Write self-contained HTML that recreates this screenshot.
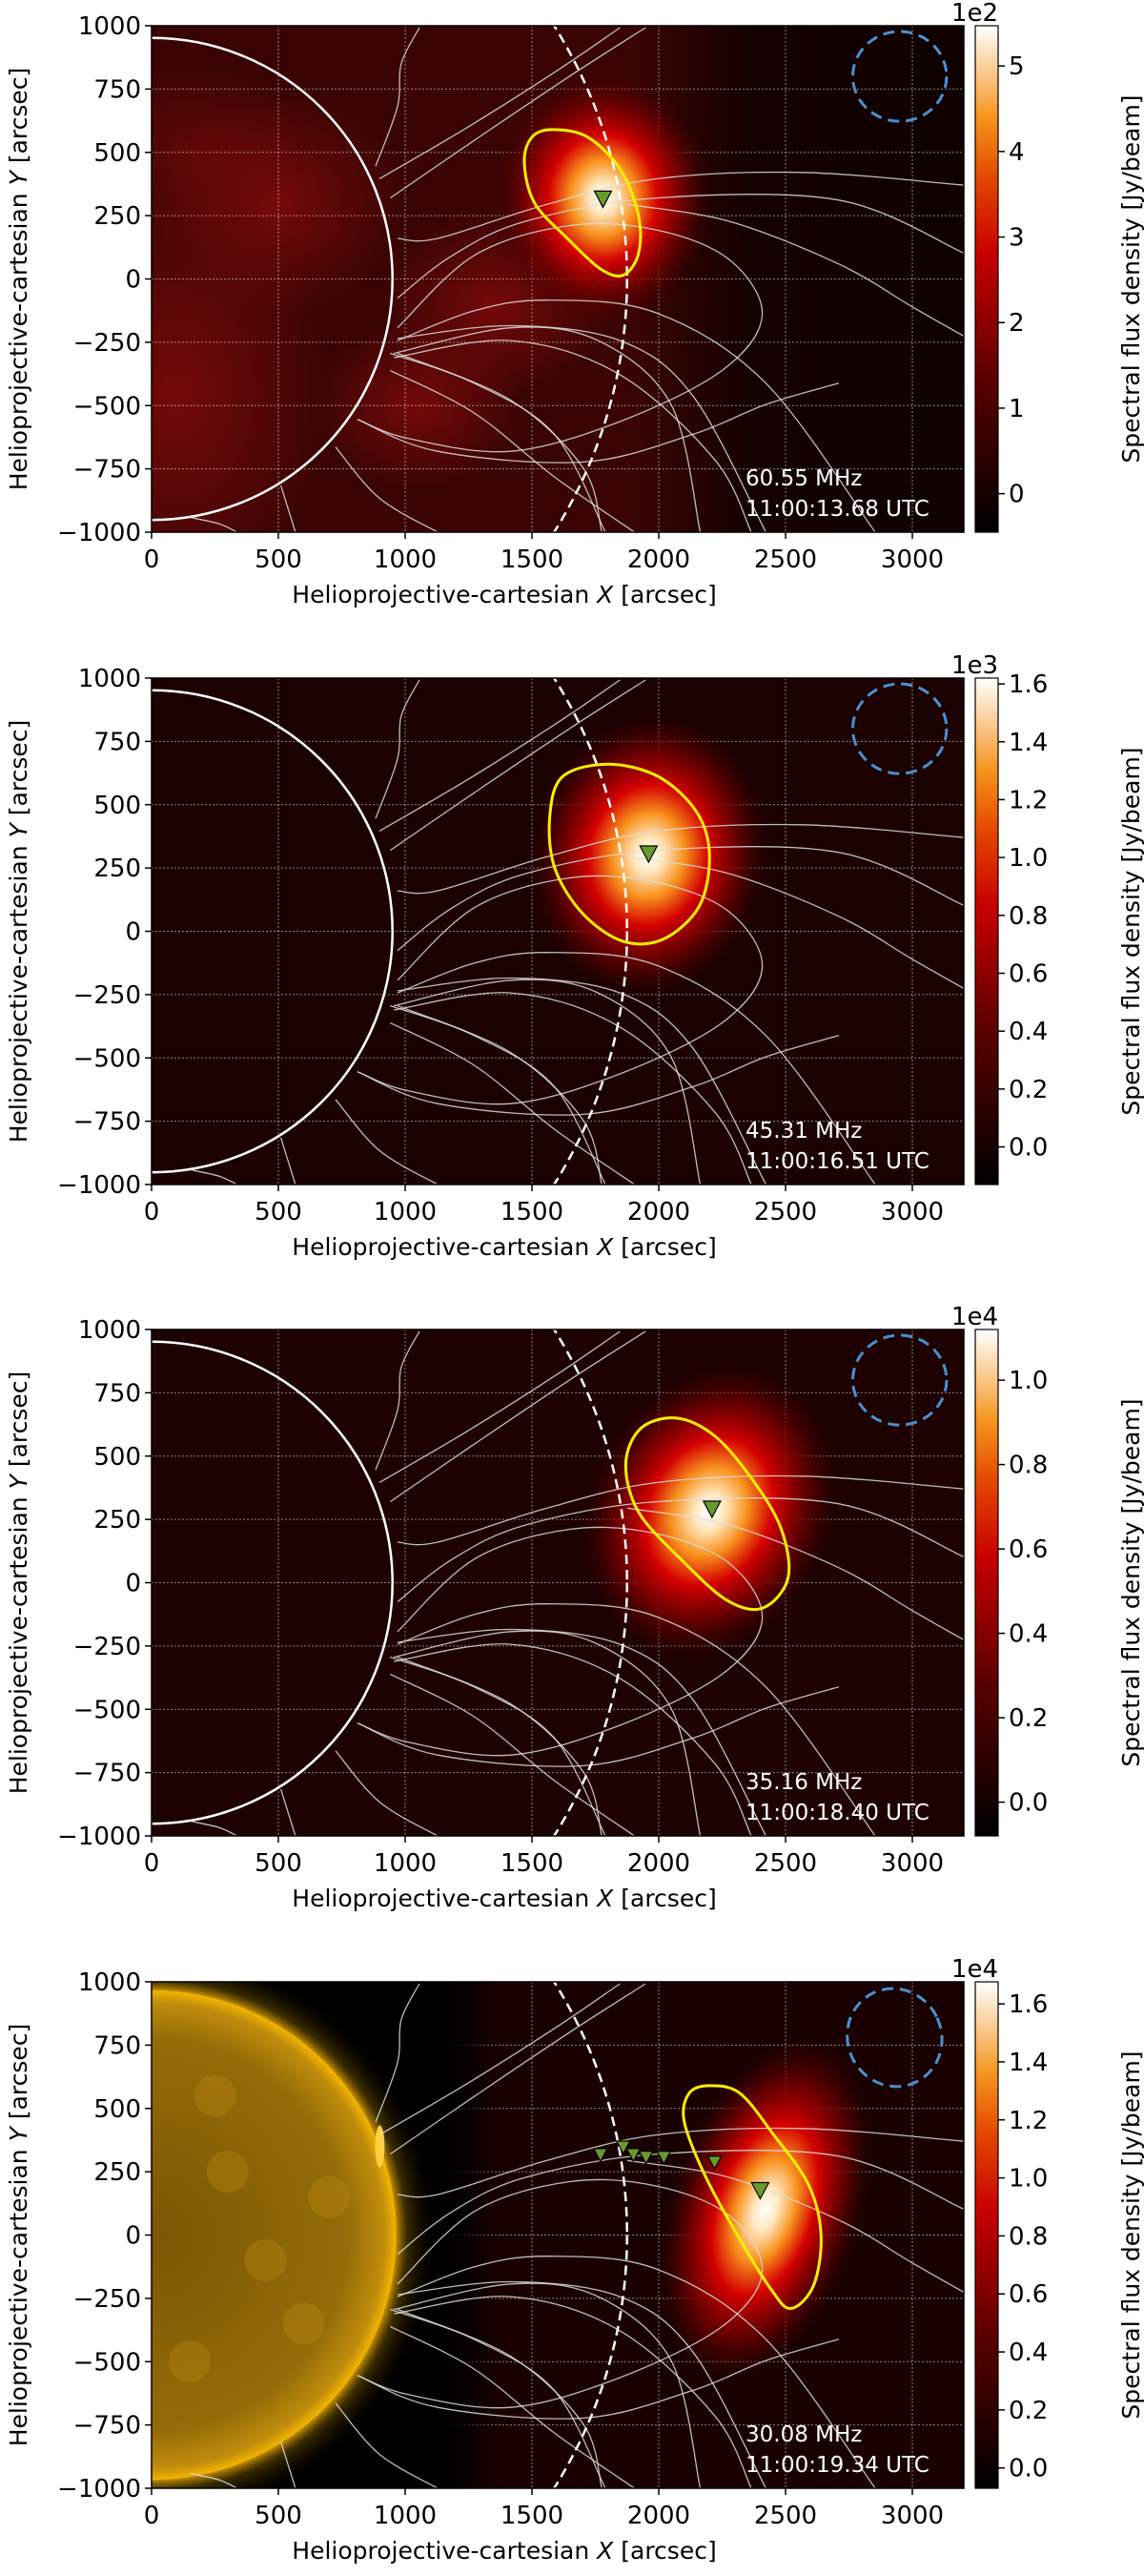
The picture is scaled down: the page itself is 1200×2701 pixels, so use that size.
<!DOCTYPE html>
<html><head><meta charset="utf-8">
<style>
html,body{margin:0;padding:0;background:#fff;}
body{width:1200px;height:2697px;overflow:hidden;font-family:"DejaVu Sans","Liberation Sans",sans-serif;}
svg text{font-family:"DejaVu Sans","Liberation Sans",sans-serif;}
</style></head>
<body>
<svg id="fig" xmlns="http://www.w3.org/2000/svg" width="1200" height="2697" viewBox="0 0 1200 2697">
<defs>
<linearGradient id="cmap" x1="0" y1="1" x2="0" y2="0">
<stop offset="0" stop-color="#000"/>
<stop offset="0.3" stop-color="#5a0000"/>
<stop offset="0.55" stop-color="#c80000"/>
<stop offset="0.7" stop-color="#e44800"/>
<stop offset="0.82" stop-color="#f5951e"/>
<stop offset="1" stop-color="#fff"/>
</linearGradient>
<radialGradient id="blob">
<stop offset="0" stop-color="#fff"/>
<stop offset="0.12" stop-color="#ffe8c0"/>
<stop offset="0.3" stop-color="#f8901c"/>
<stop offset="0.5" stop-color="#d40000"/>
<stop offset="0.75" stop-color="#780000" stop-opacity="0.75"/>
<stop offset="1" stop-color="#400000" stop-opacity="0"/>
</radialGradient>
<radialGradient id="redpatch">
<stop offset="0" stop-color="#800a0a" stop-opacity="0.85"/>
<stop offset="1" stop-color="#800a0a" stop-opacity="0"/>
</radialGradient>
<linearGradient id="fadeR" x1="0" y1="0" x2="1" y2="0">
<stop offset="0" stop-color="#080000" stop-opacity="0"/>
<stop offset="0.35" stop-color="#080000" stop-opacity="0.75"/>
<stop offset="1" stop-color="#080000" stop-opacity="0.85"/>
</linearGradient>
<radialGradient id="sun">
<stop offset="0" stop-color="#7a5604"/>
<stop offset="0.8" stop-color="#946c08"/>
<stop offset="0.95" stop-color="#c08c0c"/>
<stop offset="1" stop-color="#f2b400"/>
</radialGradient>
<radialGradient id="corona">
<stop offset="0.86" stop-color="#e0a000" stop-opacity="0.9"/>
<stop offset="0.9" stop-color="#806000" stop-opacity="0.45"/>
<stop offset="0.97" stop-color="#302000" stop-opacity="0.15"/>
<stop offset="1" stop-color="#000" stop-opacity="0"/>
</radialGradient>
<linearGradient id="aiabg" x1="0" y1="0" x2="1" y2="0">
<stop offset="0" stop-color="#000"/>
<stop offset="0.85" stop-color="#000"/>
<stop offset="1" stop-color="#000" stop-opacity="0"/>
</linearGradient>
</defs>
</svg>
<script>
// ---- data ----
const freqs = ["60.55 MHz","45.31 MHz","35.16 MHz","30.08 MHz"];
const times = ["11:00:13.68 UTC","11:00:16.51 UTC","11:00:18.40 UTC","11:00:19.34 UTC"];
const cbExp = ["1e2","1e3","1e4","1e4"];
const cbMin = [-0.45,-0.13,-0.08,-0.07];
const cbMax = [5.47,1.62,1.12,1.676];
const cbTicks = [[0,1,2,3,4,5],[0,0.2,0.4,0.6,0.8,1.0,1.2,1.4,1.6],[0,0.2,0.4,0.6,0.8,1.0],[0,0.2,0.4,0.6,0.8,1.0,1.2,1.4,1.6]];
const cbDigits = [0,1,1,1];
const blobX = [1780,1960,2200,2420];
const blobY = [320,300,280,100];
const blobRx = [430,470,480,380];
const blobRy = [500,560,600,700];
const blobRot = [0,10,25,18];
const contours = [
 [[1580,590],[1720,560],[1850,430],[1920,250],[1920,100],[1860,15],[1770,40],[1640,160],[1510,300],[1470,460],[1500,560]],
 [[1620,610],[1800,660],[2000,610],[2150,470],[2200,300],[2160,100],[2020,-30],[1860,-40],[1700,70],[1590,250],[1570,450]],
 [[1930,610],[2070,650],[2220,580],[2360,420],[2480,220],[2510,20],[2410,-100],[2270,-70],[2090,90],[1920,280],[1870,470]],
 [[2200,590],[2320,560],[2450,400],[2590,200],[2640,0],[2610,-200],[2520,-290],[2440,-210],[2310,0],[2180,240],[2100,450],[2120,560]]
];
const markX = [[1780],[1960],[2210],[1770,1860,1900,1950,2020,2220,2400]];
const markY = [[320],[310],[295],[320,350,320,310,310,290,180]];
const xTicks = [0,500,1000,1500,2000,2500,3000];
const yTicks = [-1000,-750,-500,-250,0,250,500,750,1000];
// ---- layout ----
const NS="http://www.w3.org/2000/svg";
const svg=document.getElementById('fig');
const tops=[27,711,1394,2078];
const PL=159, PW=852, PH=531;
const XMAX=3203;
function mk(tag,attrs,parent){const e=document.createElementNS(NS,tag);for(const k in attrs)e.setAttribute(k,attrs[k]);(parent||svg).appendChild(e);return e;}
function smooth(pts,closed){
  let n=pts.length; let d="M"+pts[0][0].toFixed(1)+","+pts[0][1].toFixed(1);
  const g=i=>closed?pts[(i+n)%n]:pts[Math.max(0,Math.min(n-1,i))];
  const m=closed?n:n-1;
  for(let i=0;i<m;i++){const p0=g(i-1),p1=g(i),p2=g(i+1),p3=g(i+2);
    const c1=[p1[0]+(p2[0]-p0[0])/6,p1[1]+(p2[1]-p0[1])/6],c2=[p2[0]-(p3[0]-p1[0])/6,p2[1]-(p3[1]-p1[1])/6];
    d+=" C"+c1[0].toFixed(1)+","+c1[1].toFixed(1)+" "+c2[0].toFixed(1)+","+c2[1].toFixed(1)+" "+p2[0].toFixed(1)+","+p2[1].toFixed(1);}
  return d+(closed?"Z":"");
}
const fl=[
 [[520,420],[640,300],[760,170],[850,65]],
 [[535,465],[650,330],[780,180],[885,65]],
 [[515,390],[545,250],[550,150],[575,65]],
 [[545,560],[600,560],[750,480],[900,420],[1100,405],[1322,435]],
 [[545,700],[620,600],[720,520],[900,465],[1150,470],[1322,595]],
 [[545,770],[650,600],[780,530],[900,540],[1000,610],[1045,740],[990,870],[850,990],[700,1060],[560,1030],[490,985]],
 [[545,800],[650,730],[750,705],[900,735],[1050,900],[1200,1250]],
 [[545,795],[700,765],[850,800],[950,930],[1050,1250]],
 [[540,830],[700,770],[820,800],[920,950],[960,1250]],
 [[540,840],[700,800],[850,880],[980,1080],[1030,1250]],
 [[535,830],[650,900],[760,1020],[830,1250]],
 [[535,870],[650,970],[760,1120],[870,1250]],
 [[545,830],[700,940],[800,1100],[825,1250]],
 [[490,985],[600,1060],[800,1085],[950,1020],[1050,950],[1150,900]],
 [[860,480],[1000,520],[1150,620],[1250,720],[1322,790]],
 [[460,1050],[520,1170],[600,1250]],
 [[385,1140],[405,1250]],
 [[260,1215],[300,1230],[325,1250]]
];
function addText(x,y,s,opt,name){
  const t=mk('text',Object.assign({x:x,y:y,'font-size':26,fill:'#000'},opt||{}));
  t.textContent=s;
  
  
  return t;
}
function addLabel(x,y,pre,it,post,opt,name){
  const t=mk('text',Object.assign({x:x,y:y,'font-size':26,fill:'#000'},opt||{}));
  t.appendChild(document.createTextNode(pre));
  const s=mk('tspan',{'font-style':'italic'},t);s.textContent=it;
  t.appendChild(document.createTextNode(post));
  
  
  return t;
}
tops.forEach((T,p)=>{
  const sx=a=>PL+a/XMAX*PW;
  const sy=b=>T+(1000-b)/2000*PH;
  const sc=PW/XMAX;
  const clipId='clip'+p;
  const cp=mk('clipPath',{id:clipId});mk('rect',{x:PL,y:T,width:PW,height:PH},cp);
  const g=mk('g',{'clip-path':'url(#'+clipId+')'});
  
  
  const bgc=['#3a0404','#1c0101','#1e0101','#1a0101'][p];
  mk('rect',{x:PL,y:T,width:PW,height:PH,fill:bgc},g);
  if(p===0){
    mk('ellipse',{cx:sx(100),cy:sy(-450),rx:160,ry:220,fill:'url(#redpatch)'},g);
    mk('ellipse',{cx:sx(500),cy:sy(300),rx:130,ry:120,fill:'url(#redpatch)'},g);
    mk('ellipse',{cx:sx(1350),cy:sy(-100),rx:120,ry:100,fill:'url(#redpatch)'},g);
    mk('ellipse',{cx:sx(1050),cy:sy(-500),rx:110,ry:90,fill:'url(#redpatch)'},g);
    mk('ellipse',{cx:sx(150),cy:sy(500),rx:120,ry:100,fill:'url(#redpatch)',opacity:0.6},g);
    mk('rect',{x:sx(1900),y:T,width:sx(XMAX)-sx(1900),height:PH,fill:'url(#fadeR)'},g);
  }
  xTicks.slice(1).forEach(v=>{const l=mk('line',{x1:sx(v),x2:sx(v),y1:T,y2:T+PH,stroke:'#fff','stroke-opacity':0.5,'stroke-width':1,'stroke-dasharray':'2,2'},g);});
  yTicks.slice(1,-1).forEach(v=>{const l=mk('line',{x1:PL,x2:PL+PW,y1:sy(v),y2:sy(v),stroke:'#fff','stroke-opacity':0.5,'stroke-width':1,'stroke-dasharray':'2,2'},g);});
  const b=mk('ellipse',{cx:sx(blobX[p]),cy:sy(blobY[p]),rx:blobRx[p]*sc,ry:blobRy[p]*sc,fill:'url(#blob)',transform:'rotate('+blobRot[p]+' '+sx(blobX[p])+' '+sy(blobY[p])+')'},g);
  
  
  if(p===3){
    mk('rect',{x:PL,y:T,width:sx(1380)-PL,height:PH,fill:'url(#aiabg)'},g);
    mk('circle',{cx:sx(0),cy:sy(0),r:1120*sc,fill:'url(#corona)'},g);
    const s=mk('circle',{cx:sx(0),cy:sy(0),r:965*sc,fill:'url(#sun)'},g);
    
    
    [[300,250],[150,-500],[600,-350],[250,550],[700,150],[450,-100]].forEach(q=>mk('circle',{cx:sx(q[0]),cy:sy(q[1]),r:22,fill:'#c08a10',opacity:0.35},g));
    mk('ellipse',{cx:sx(900),cy:sy(350),rx:5,ry:22,fill:'#ffd040'},g);
  } else {
    const limb=mk('circle',{cx:sx(0),cy:sy(0),r:950*sc,fill:'none',stroke:'#fff','stroke-width':2.5},g);
    
    
  }
  fl.forEach(line=>{
    const pts=line.map(q=>[q[0]/1.307,q[1]/2.24-27+T]);
    const l=mk('path',{d:smooth(pts,false),fill:'none',stroke:'#ddd','stroke-opacity':0.85,'stroke-width':1.3},g);
    
    
  });
  const dc=mk('circle',{cx:sx(0),cy:sy(0),r:1875*sc,fill:'none',stroke:'#fff','stroke-width':2.5,'stroke-dasharray':'10,6'},g);
  
  
  const c=mk('path',{d:smooth(contours[p].map(q=>[sx(q[0]),sy(q[1])]),true),fill:'none',stroke:'#ffee00','stroke-width':3},g);
  
  
  markX[p].forEach((mx,i)=>{
    const x=sx(mx),y=sy(markY[p][i]),r=(p===3&&i<markX[p].length-1)?7:9;
    const m=mk('path',{d:`M${x-r},${y-r*0.8} L${x+r},${y-r*0.8} L${x},${y+r*1.1}Z`,fill:'#6b9a2a',stroke:'#000','stroke-width':1.2},g);
    
    
  });
  const bex=p===3?2930:2950, bey=p===3?780:800;
  const be=mk('ellipse',{cx:sx(bex),cy:sy(bey),rx:185*sc,ry:(p===3?195:177)*sc,fill:'none',stroke:'#4a90d0','stroke-width':3,'stroke-dasharray':'12,7',transform:p===3?`rotate(-25 ${sx(bex)} ${sy(bey)})`:''},g);
  
  
  addText(782,T+482,freqs[p],{fill:'#fff','font-size':23},'frequency-label');
  addText(782,T+514,times[p],{fill:'#fff','font-size':23},'time-label');
  const fr=mk('rect',{x:PL,y:T,width:PW,height:PH,fill:'none',stroke:'#000','stroke-width':1.5});
  
  
  xTicks.forEach(v=>{mk('line',{x1:sx(v),x2:sx(v),y1:T+PH,y2:T+PH+7,stroke:'#000','stroke-width':1.5});
    addText(sx(v),T+PH+37,String(v),{'text-anchor':'middle','font-size':26},'x-tick-label');});
  yTicks.forEach(v=>{mk('line',{x1:PL-7,x2:PL,y1:sy(v),y2:sy(v),stroke:'#000','stroke-width':1.5});
    addText(PL-11,sy(v)+9,(v<0?'\u2212'+(-v):String(v)),{'text-anchor':'end','font-size':26},'y-tick-label');});
  addLabel(PL+PW/2-56,T+PH+74,'Helioprojective-cartesian ','X',' [arcsec]',{'text-anchor':'middle','font-size':25},'x-axis-title');
  addLabel(0,0,'Helioprojective-cartesian ','Y',' [arcsec]',{'text-anchor':'middle','font-size':25,transform:`translate(28 ${T+PH/2}) rotate(-90)`},'y-axis-title');
  const CX=1023,CW=24;
  const cb=mk('rect',{x:CX,y:T,width:CW,height:PH,fill:'url(#cmap)',stroke:'#000','stroke-width':1.2});
  
  
  const cy=v=>T+(cbMax[p]-v)/(cbMax[p]-cbMin[p])*PH;
  cbTicks[p].forEach(v=>{mk('line',{x1:CX+CW,x2:CX+CW+7,y1:cy(v),y2:cy(v),stroke:'#000','stroke-width':1.5});
    addText(CX+CW+11,cy(v)+9,v.toFixed(cbDigits[p]),{'font-size':26},'colorbar-tick-label');});
  addText(CX+CW,T-5,cbExp[p],{'text-anchor':'end','font-size':26},'colorbar-exponent');
  addText(0,0,'Spectral flux density [Jy/beam]',{'text-anchor':'middle','font-size':25,transform:`translate(1195 ${T+PH/2}) rotate(-90)`},'colorbar-title');
});
</script>
</body></html>
